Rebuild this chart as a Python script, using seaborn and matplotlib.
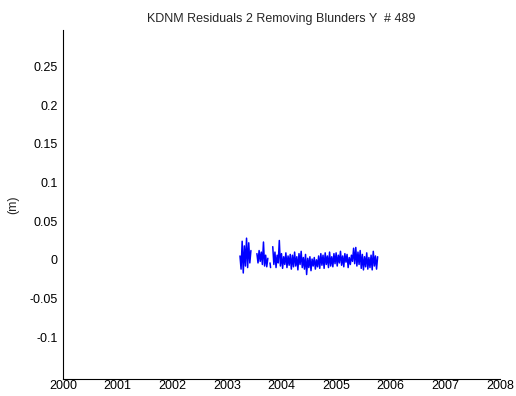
import numpy as np
import pandas as pd
import matplotlib
matplotlib.use("Agg")
import matplotlib.pyplot as plt
import seaborn as sns

# --- data (residuals in metres) ---
seg_a_start, seg_a_step = 2003.24, 0.02
seg_a = [0.005, -0.012, 0.024, -0.017, 0.018, -0.008, 0.028, -0.010, 0.022, -0.004, 0.012]

seg_b_start, seg_b_step = 2003.55, 0.02
seg_b = [0.008, -0.004, 0.012, -0.002, 0.010, -0.006, 0.023, -0.008, 0.006, -0.009, 0.002]

seg_m_start, seg_m_step = 2003.79, 0.01
seg_m = [-0.004, -0.010]

seg_c_start, seg_c_step = 2003.84, 0.02
seg_c = [0.017, -0.006, 0.010, -0.010, 0.006, -0.004, 0.025,
         -0.008, 0.008, -0.011, 0.004, -0.006, 0.009, -0.010, 0.005, -0.007, 0.007, -0.012, 0.006,
         -0.009, 0.010, -0.008, 0.004, -0.013, 0.008, -0.006, 0.011, -0.010, 0.003, -0.012, 0.007,
         -0.019, 0.002, -0.010, 0.004, -0.014, 0.001, -0.008, 0.003, -0.012, 0.000, -0.009, 0.005, -0.011,
         0.008, -0.007, 0.006, -0.011, 0.009, -0.006, 0.005, -0.010, 0.010, -0.008, 0.004, -0.009, 0.008, -0.005,
         0.009, -0.008, 0.006, -0.004, 0.011, -0.007, 0.005, -0.009, 0.008, -0.003, 0.007, -0.010,
         0.003, -0.006, 0.006, -0.002, 0.015, -0.005, 0.016, -0.008, 0.010, -0.006, 0.012,
         -0.011, 0.007, -0.013, 0.004, -0.009, 0.009, -0.012, 0.003, -0.010, 0.006, -0.013, 0.011, -0.008, 0.005, -0.012, 0.004]

x_ticks = [2000, 2001, 2002, 2003, 2004, 2005, 2006, 2007, 2008]
y_ticks = [-0.1, -0.05, 0, 0.05, 0.1, 0.15, 0.2, 0.25]
y_tick_labels = ["-0.1", "-0.05", "0", "0.05", "0.1", "0.15", "0.2", "0.25"]
title = "KDNM Residuals 2 Removing Blunders Y  # 489"
ylabel = "(m)"

frames = []
for i, (start, step, vals) in enumerate([(seg_a_start, seg_a_step, seg_a),
                                          (seg_b_start, seg_b_step, seg_b),
                                          (seg_m_start, seg_m_step, seg_m),
                                          (seg_c_start, seg_c_step, seg_c)]):
    yrs = start + step * np.arange(len(vals))
    frames.append(pd.DataFrame({"year": yrs, "res": vals, "seg": i}))
df = pd.concat(frames, ignore_index=True)

sns.set_style("white")
plt.rcParams['font.family'] = ['Liberation Sans', 'DejaVu Sans']

fig = plt.figure(figsize=(5.16, 3.96), dpi=100)
ax = fig.add_axes([63/516, 17/396, (500-63)/516, (379-30)/396])

sns.lineplot(data=df, x="year", y="res", units="seg", estimator=None, sort=False,
             color="#0000ff", linewidth=1.1, ax=ax, legend=False)

ax.set_xlim(2000, 2008)
ax.set_ylim(-0.154, 0.297)
ax.set_xticks(x_ticks)
ax.set_xticklabels([str(t) for t in x_ticks])
ax.set_yticks(y_ticks)
ax.set_yticklabels(y_tick_labels)
ax.tick_params(direction="in", length=4, width=0.8, labelsize=9, colors="black")
ax.tick_params(axis="x", pad=1)
ax.tick_params(axis="y", pad=4)
for s in ["top", "right"]:
    ax.spines[s].set_visible(False)
for s in ["left", "bottom"]:
    ax.spines[s].set_color("black")
    ax.spines[s].set_linewidth(0.8)
ax.set_xlabel("")
ax.set_ylabel(ylabel, fontsize=9, labelpad=7)
ax.set_title(title, fontsize=9, pad=6)

fig.savefig("out.png", dpi=100)
